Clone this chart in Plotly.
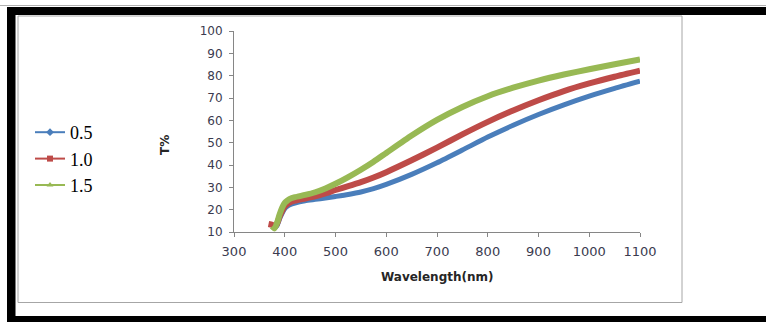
import plotly.graph_objects as go

# ---- data ----
wl_05 = [380, 385, 390, 395, 400, 405, 410, 420, 440, 460, 480, 500, 525, 550, 575, 600,
         650, 700, 750, 800, 850, 900, 950, 1000, 1050, 1100]
t_05 = [11.8, 13.0, 16.0, 18.5, 20.5, 21.5, 22.2, 23.0, 24.0, 24.6, 25.2, 25.9, 26.8, 27.9, 29.4, 31.3,
        35.8, 41.0, 46.7, 52.5, 57.8, 62.6, 66.9, 70.8, 74.3, 77.5]

wl_10 = [368, 375, 380, 385, 390, 395, 400, 405, 410, 420, 440, 460, 480, 500, 525, 550, 575, 600,
         650, 700, 750, 800, 850, 900, 950, 1000, 1050, 1100]
t_10 = [13.6, 13.2, 12.4, 13.8, 17.0, 19.5, 21.5, 22.5, 23.2, 24.0, 25.0, 26.0, 27.3, 28.8, 30.5, 32.3, 34.4, 36.8,
        42.1, 47.8, 53.7, 59.3, 64.4, 69.0, 73.1, 76.5, 79.5, 82.2]

wl_15 = [375, 380, 385, 390, 395, 400, 405, 410, 420, 440, 460, 480, 500, 525, 550, 575, 600,
         650, 700, 750, 800, 850, 900, 950, 1000, 1050, 1100]
t_15 = [12.5, 11.6, 14.2, 18.0, 21.0, 23.0, 24.0, 24.8, 25.6, 26.6, 27.8, 29.5, 31.6, 34.6, 37.9, 41.5, 45.4,
        53.2, 60.2, 66.0, 70.8, 74.6, 77.8, 80.5, 82.9, 85.1, 87.3]

series_names = ["0.5", "1.0", "1.5"]
series_colors = ["#4a7ebb", "#be4b48", "#98b954"]
series_symbols = ["diamond", "square", "triangle-up"]
x_ticks = [300, 400, 500, 600, 700, 800, 900, 1000, 1100]
y_ticks = [10, 20, 30, 40, 50, 60, 70, 80, 90, 100]

# ---- geometry ----
W, H = 766, 322
L, R, T, B = 234, 640, 31, 232  # plot area in pixels


def px(xp):
    return (xp - L) / (R - L)


def py(yp):
    return (B - yp) / (B - T)


fig = go.Figure()
data = [(wl_05, t_05), (wl_10, t_10), (wl_15, t_15)]
widths = [5, 6, 6]
for (xs, ys), name, col, w in zip(data, series_names, series_colors, widths):
    fig.add_trace(go.Scatter(x=xs, y=ys, mode="lines", name=name, showlegend=False,
                             line=dict(color=col, width=w, shape="spline", smoothing=0.6)))
# legend entries (thin line with marker, like the original)
for name, col, sym in zip(series_names, series_colors, series_symbols):
    fig.add_trace(go.Scatter(x=[None], y=[None], mode="lines+markers", name=name,
                             line=dict(color=col, width=2),
                             marker=dict(symbol=sym, size=6, color=col)))

shapes = [
    # thin gray line at very top
    dict(type="line", xref="paper", yref="paper", x0=px(0), x1=px(W), y0=py(5.5), y1=py(5.5),
         line=dict(color="#b0b0b0", width=1)),
    # black frame bands
    dict(type="rect", xref="paper", yref="paper", x0=px(7), x1=px(W + 2), y0=py(7), y1=py(15),
         fillcolor="black", line=dict(width=0)),
    dict(type="rect", xref="paper", yref="paper", x0=px(7), x1=px(15.5), y0=py(7), y1=py(322),
         fillcolor="black", line=dict(width=0)),
    dict(type="rect", xref="paper", yref="paper", x0=px(7), x1=px(W + 2), y0=py(316), y1=py(322),
         fillcolor="black", line=dict(width=0)),
    # inner chart-area border
    dict(type="rect", xref="paper", yref="paper", x0=px(18), x1=px(682), y0=py(16), y1=py(302.5),
         fillcolor="rgba(0,0,0,0)", line=dict(color="#a6a6a6", width=1)),
]

annotations = [
    dict(text="<b>Wavelength(nm)</b>", xref="paper", yref="paper", x=px(437), y=py(277),
         showarrow=False, xanchor="center", yanchor="middle",
         font=dict(family="DejaVu Sans", size=12, color="#262626")),
    dict(text="<b>T%</b>", xref="paper", yref="paper", x=px(165), y=py(145), textangle=-90,
         showarrow=False, xanchor="center", yanchor="middle",
         font=dict(family="DejaVu Sans", size=12, color="#262626")),
]

fig.update_layout(
    width=W, height=H,
    margin=dict(l=L, r=W - R, t=T, b=H - B, pad=0),
    paper_bgcolor="white", plot_bgcolor="white",
    shapes=shapes, annotations=annotations,
    legend=dict(x=px(30), y=py(114), xanchor="left", yanchor="top",
                font=dict(family="Liberation Serif", size=18, color="black"),
                bgcolor="rgba(0,0,0,0)", tracegroupgap=0, itemwidth=30),
    xaxis=dict(range=[300, 1100], tickvals=x_ticks, ticktext=[str(v) for v in x_ticks],
               showgrid=False, zeroline=False, showline=True, linecolor="#868686", linewidth=1,
               ticks="outside", ticklen=4, tickcolor="#868686",
               tickfont=dict(family="DejaVu Sans", size=13, color="#3b3b4f"), ticklabelstandoff=3),
    yaxis=dict(range=[10, 100], tickvals=y_ticks, ticktext=[str(v) for v in y_ticks],
               showgrid=False, zeroline=False, showline=True, linecolor="#868686", linewidth=1,
               ticks="outside", ticklen=4, tickcolor="#868686",
               tickfont=dict(family="DejaVu Sans", size=12, color="#3b3b4f"), ticklabelstandoff=4),
)

fig.write_html("out.html", config={"displayModeBar": False},
               post_script="document.body.style.margin='0';")
